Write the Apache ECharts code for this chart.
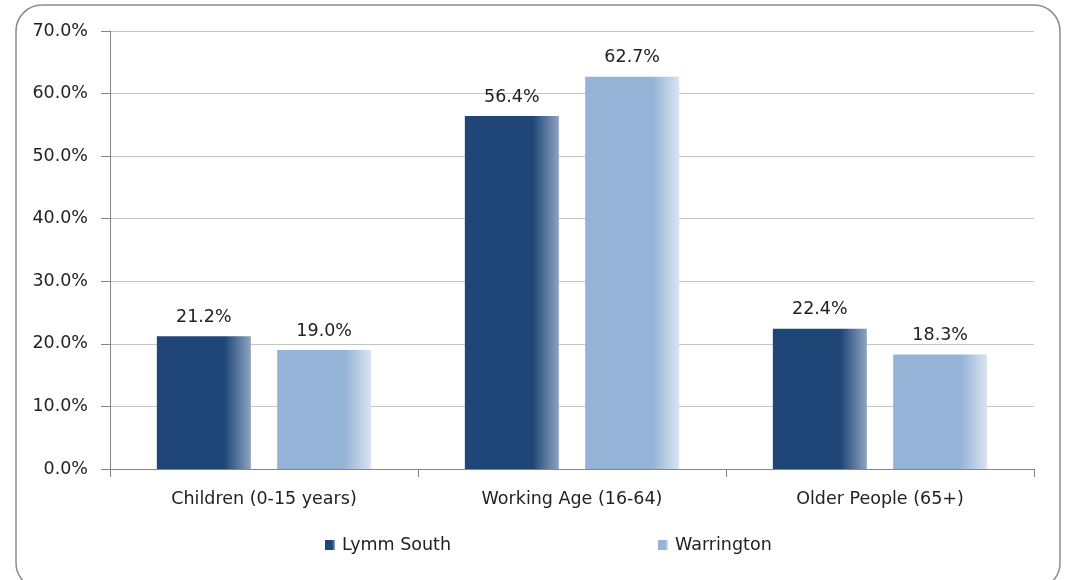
<!DOCTYPE html>
<html>
<head>
<meta charset="utf-8">
<script src="https://cdn.jsdelivr.net/npm/echarts@6/dist/echarts.min.js"></script>
<style>
  html, body { margin: 0; padding: 0; background: #fff; }
  #myChart { width: 1068px; height: 580px; }
</style>
</head>
<body>
<div id="myChart"></div>
<script>
// 数据
const categories = ['Children (0-15 years)', 'Working Age (16-64)', 'Older People (65+)'];
const lymmSouth = [21.2, 56.4, 22.4];
const warrington = [19.0, 62.7, 18.3];
const yTicks = [0, 10, 20, 30, 40, 50, 60, 70];

const font = 'DejaVu Sans';
const textColor = '#222';
const fs = 17.5;

// 横向渐变，右边缘变浅
const grad = (main, edge) => ({
    type: 'linear', x: 0, y: 0, x2: 1, y2: 0,
    colorStops: [
        {offset: 0, color: main},
        {offset: 0.72, color: main},
        {offset: 1, color: edge}
    ]
});

const makeSeries = (name, data, main, edge) => ({
    name,
    type: 'bar',
    data,
    barWidth: 94,
    barGap: '28%',
    itemStyle: {color: grad(main, edge)},
    label: {
        show: true,
        position: 'top',
        distance: 10,
        color: textColor,
        fontFamily: font,
        fontSize: fs,
        formatter: p => p.value.toFixed(1) + '%'
    }
});

const myChart = echarts.init(document.getElementById('myChart'));

const option = {
    animation: false,
    grid: {left: 110, right: 34, top: 31, bottom: 111},
    legend: {
        left: 320,
        top: 531,
        itemWidth: 10,
        itemHeight: 10,
        itemGap: 207,
        icon: 'rect',
        textStyle: {color: textColor, fontFamily: font, fontSize: fs, padding: [0, 0, 0, 2]},
        data: ['Lymm South', 'Warrington']
    },
    xAxis: {
        type: 'category',
        data: categories,
        axisLine: {lineStyle: {color: '#868686'}},
        axisTick: {show: true, length: 8, lineStyle: {color: '#868686'}},
        axisLabel: {color: textColor, fontFamily: font, fontSize: fs, margin: 21}
    },
    yAxis: {
        type: 'value',
        min: yTicks[0],
        max: yTicks[yTicks.length - 1],
        interval: 10,
        axisLine: {show: true, lineStyle: {color: '#868686'}},
        axisTick: {show: true, length: 9, lineStyle: {color: '#868686'}},
        axisLabel: {
            color: textColor, fontFamily: font, fontSize: fs, margin: 22,
            formatter: v => v.toFixed(1) + '%'
        },
        splitLine: {lineStyle: {color: '#c4c4c4'}}
    },
    graphic: [{
        type: 'rect',
        shape: {x: 16, y: 5, width: 1044, height: 584, r: 26},
        style: {fill: 'none', stroke: '#8c8c8c', lineWidth: 1.5},
        silent: true,
        z: -1
    }],
    series: [
        makeSeries('Lymm South', lymmSouth, '#1F4676', '#8ea3c0'),
        makeSeries('Warrington', warrington, '#95B3D7', '#dbe4f1')
    ]
};

myChart.setOption(option);
</script>
</body>
</html>
